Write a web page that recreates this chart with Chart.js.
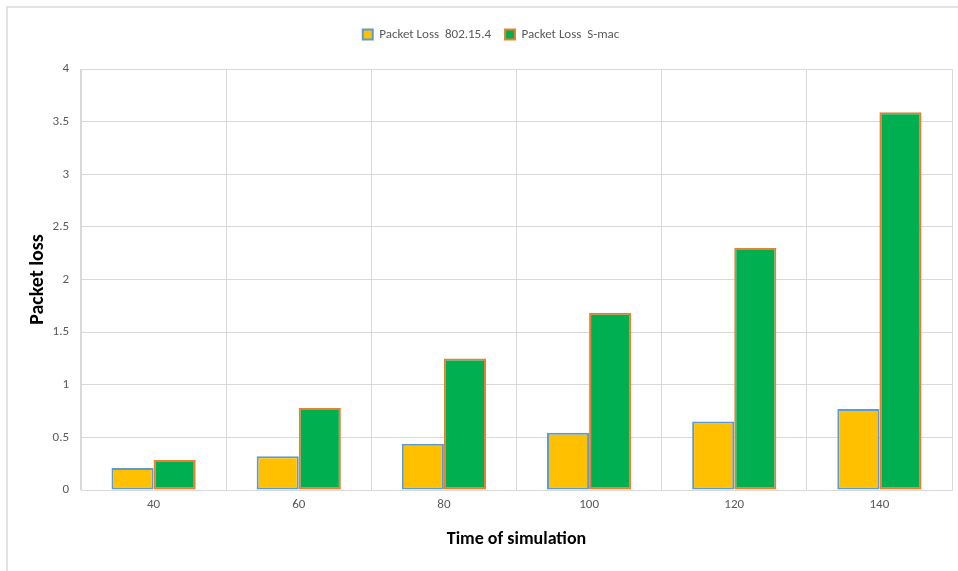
<!DOCTYPE html>
<html>
<head>
<meta charset="utf-8">
<script src="https://cdn.jsdelivr.net/npm/chart.js@4.4.1/dist/chart.umd.min.js"></script>
<style>
  html, body { margin: 0; padding: 0; background: #fff; }
  #wrap { position: relative; width: 958px; height: 571px; overflow: hidden; }
  #frame { position: absolute; left: 6px; top: 6px; width: 980px; height: 600px;
           border-left: 2px solid #e3e3e3; border-top: 2px solid #e3e3e3; }
  canvas { position: absolute; left: 0; top: 0; }
</style>
</head>
<body>
<div id="wrap">
  <div id="frame"></div>
  <canvas id="chart" width="958" height="571"></canvas>
</div>
<script>
// Simulation time (categories) and packet loss per MAC protocol
const simulationTimes = ['40', '60', '80', '100', '120', '140'];
const lossIeee802154 = [0.21, 0.32, 0.44, 0.545, 0.65, 0.77];
const lossSmac = [0.285, 0.78, 1.25, 1.685, 2.3, 3.59];
const seriesNames = ['Packet Loss  802.15.4', 'Packet Loss  S-mac'];

const fontFamily = "Carlito, 'Liberation Sans', Arial, sans-serif";
const gridColor = '#d9d9d9';
const textColor = '#595959';

// Leave a gap between the legend row and the plot area, and centre the
// legend over the plot rather than over the whole canvas
const legendGap = {
  id: 'legendGap',
  afterInit(chart) {
    const legend = chart.legend;
    if (!legend) return;
    const fit = legend.fit;
    legend.fit = function () {
      fit.call(this);
      this.height += 18;
    };
    const draw = legend.draw;
    legend.draw = function () {
      const ctx = this.ctx;
      ctx.save();
      ctx.translate(15, 0);
      draw.call(this);
      ctx.restore();
    };
  }
};

new Chart(document.getElementById('chart'), {
  type: 'bar',
  data: {
    labels: simulationTimes,
    datasets: [
      {
        label: seriesNames[0],
        data: lossIeee802154,
        backgroundColor: '#FFC000',
        borderColor: '#5B9BD5',
        borderWidth: 2,
        borderSkipped: false
      },
      {
        label: seriesNames[1],
        data: lossSmac,
        backgroundColor: '#00B050',
        borderColor: '#ED7D31',
        borderWidth: 2,
        borderSkipped: false
      }
    ]
  },
  plugins: [legendGap],
  options: {
    responsive: false,
    animation: false,
    layout: { padding: { left: 0, right: 6, top: 14, bottom: 0 } },
    datasets: { bar: { categoryPercentage: 0.58, barPercentage: 1 } },
    plugins: {
      tooltip: { enabled: false },
      legend: {
        position: 'top',
        labels: {
          color: textColor,
          font: { family: fontFamily, size: 13 },
          boxWidth: 10,
          boxHeight: 10,
          padding: 14
        }
      }
    },
    scales: {
      x: {
        grid: { color: gridColor, lineWidth: 1, drawTicks: false, offset: true },
        border: { color: gridColor },
        ticks: { color: textColor, font: { family: fontFamily, size: 13 }, padding: 7 },
        title: {
          display: true,
          text: 'Time of simulation',
          color: '#000',
          font: { family: fontFamily, size: 18, weight: 'bold' },
          padding: { top: 0, bottom: 21 }
        },
        afterFit: (scale) => { scale.height = 81; }
      },
      y: {
        min: 0,
        max: 4,
        ticks: {
          stepSize: 0.5,
          color: textColor,
          font: { family: fontFamily, size: 13 },
          padding: 12,
          callback: (value) => String(value)
        },
        grid: { color: gridColor, lineWidth: 1, drawTicks: false },
        border: { color: gridColor },
        title: {
          display: true,
          text: 'Packet loss',
          color: '#000',
          font: { family: fontFamily, size: 20, weight: 'bold' },
          padding: { top: 26, bottom: 0 }
        },
        afterFit: (scale) => { scale.width = 81; }
      }
    }
  }
});
</script>
</body>
</html>
